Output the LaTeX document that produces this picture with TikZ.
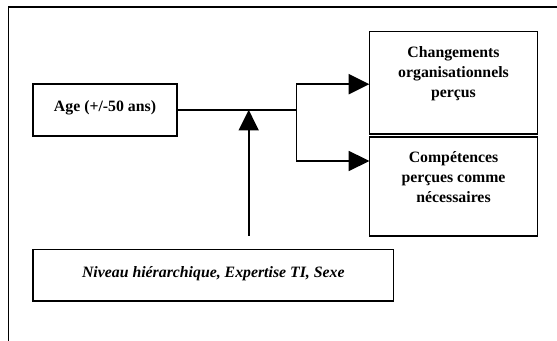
\documentclass[tikz,border=0pt]{standalone}
\usepackage{fontspec}
\setmainfont{Liberation Serif}
\usetikzlibrary{arrows.meta}
\begin{document}
\begin{tikzpicture}[x=0.75pt,y=-0.75pt,
  box/.style={draw,line width=1.2pt,inner sep=0pt,outer sep=0pt},
  lbl/.style={font=\fontsize{11.85}{15}\selectfont\bfseries,align=center,inner sep=0pt},
  conn/.style={line width=1.2pt},
  arr/.style={line width=1.2pt,-{Triangle[length=15.5pt,width=15pt]}}]
\useasboundingbox (0,0) rectangle (557,341);
% outer frame (top and left only)
\draw[line width=1.4pt] (8.5,341) -- (8.5,7) -- (557,7);
% boxes
\node[box,minimum width=108pt,minimum height=39pt] (age) at (105,110) {};
\node[lbl] at (105,107.5) {Age (+/-50 ans)};
\node[box,minimum width=126.1pt,minimum height=77.2pt] (chg) at (453.5,82.8) {};
\node[lbl] at (453.5,73.5) {Changements\\organisationnels\\perçus};
\node[box,minimum width=126.1pt,minimum height=74.6pt] (comp) at (453.5,186.5) {};
\node[lbl] at (453.5,177.5) {Compétences\\perçues comme\\nécessaires};
\node[box,minimum width=270.4pt,minimum height=38.8pt] (mod) at (213.3,275.3) {};
\node[lbl,font=\fontsize{11.85}{15}\selectfont\bfseries\itshape] at (213.3,273.5) {Niveau hiérarchique, Expertise TI, Sexe};
% connectors
\coordinate (j) at (296.6,109.8);
\coordinate (t1) at (369.4,84.2);
\coordinate (t2) at (369.4,161);
\coordinate (vs) at (248.7,236);
\coordinate (vt) at (248.7,109.8);
\draw[conn] (age.east |- j) -- (j);
\draw[arr] (j) -- (j |- t1) -- (t1);
\draw[arr] (j) -- (j |- t2) -- (t2);
\draw[arr] (vs) -- (vt);
\end{tikzpicture}
\end{document}
